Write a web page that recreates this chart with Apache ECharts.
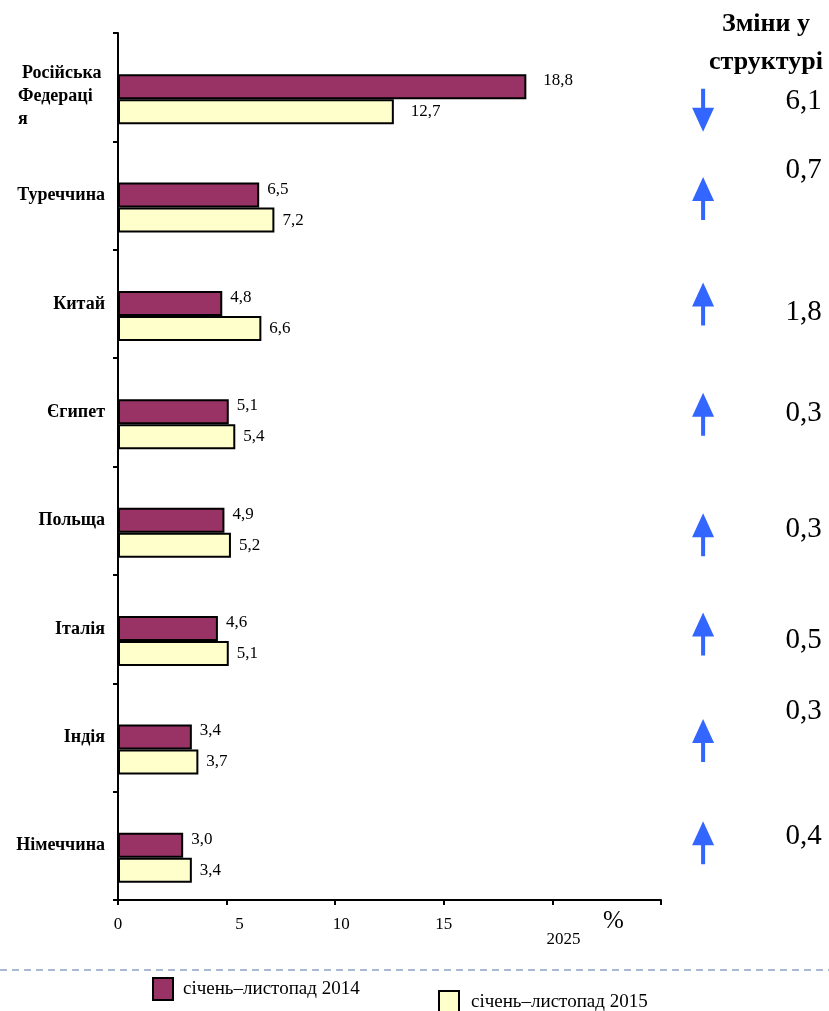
<!DOCTYPE html>
<html>
<head>
<meta charset="utf-8">
<script src="https://cdn.jsdelivr.net/npm/echarts@6/dist/echarts.min.js"></script>
<style>
html,body{margin:0;padding:0;background:#fff;}
#chart{width:829px;height:1011px;}
</style>
</head>
<body>
<div id="chart"></div>
<script>
// ---- data ----
const categories = ['Російська Федерація','Туреччина','Китай','Єгипет','Польща','Італія','Індія','Німеччина'];
const seriesNames = ['січень–листопад 2014','січень–листопад 2015'];
const share2014 = [18.8, 6.5, 4.8, 5.1, 4.9, 4.6, 3.4, 3.0];
const share2015 = [12.7, 7.2, 6.6, 5.4, 5.2, 5.1, 3.7, 3.4];
const structureChange = [6.1, 0.7, 1.8, 0.3, 0.3, 0.5, 0.3, 0.4];
const changeDirection = ['down','up','up','up','up','up','up','up'];
const xTicks = [0, 5, 10, 15, 20, 25];
const changeTitle = 'Зміни у\nструктурі';
const unitLabel = '%';

// ---- layout tweaks (not data) ----
const arrowNudge = [23, 3, 0, 2, 14, 5, 3, -3];
const textNudge = [14, -25, 8, 1, 9, 11, -26, -9];
const FONT = '"Times New Roman", "Liberation Serif", serif';
const fmt = v => v.toFixed(1).replace('.', ',');

const chart = echarts.init(document.getElementById('chart'), null, {renderer: 'canvas'});

function barSeries(name, values, color, labelOffsetY) {
  return {
    type: 'bar',
    name: name,
    barWidth: 25,
    barGap: '0%',
    data: values.map((v, i) => i === 0
      ? {value: v, label: {distance: 17}}
      : v),
    itemStyle: {color: color, borderColor: '#000', borderWidth: 2},
    label: {
      show: true, position: 'right', distance: 8, offset: [0, labelOffsetY],
      color: '#000', fontFamily: FONT, fontSize: 17,
      formatter: p => fmt(p.value)
    },
    z: 3
  };
}

const arrowPath = 'path://M11,0 L22,24 L13,24 L13,43 L9,43 L9,24 L0,24 Z';

// wrap the long first category the way the original slide does
function categoryLabel(v) {
  if (v !== categories[0]) return v;
  return '{sp| }\n{r1|Російська}\n{r|Федераці}\n{r|я}';
}

const labelRich = {
  sp: {fontSize: 10, lineHeight: 18, width: 87},
  r1: {fontFamily: FONT, fontSize: 18, fontWeight: 'bold', color: '#000', width: 83, align: 'left', lineHeight: 23, padding: [0, 0, 0, 4]},
  r: {fontFamily: FONT, fontSize: 18, fontWeight: 'bold', color: '#000', width: 87, align: 'left', lineHeight: 23}
};

const option = {
  backgroundColor: '#ffffff',
  animation: false,
  title: {
    text: changeTitle,
    left: 761, top: 0,
    textAlign: 'center',
    textStyle: {fontFamily: FONT, fontSize: 26, fontWeight: 'bold', color: '#000', lineHeight: 38}
  },
  legend: [
    {
      data: [seriesNames[0]], left: 147, top: 972, icon: 'rect',
      itemWidth: 20, itemHeight: 22, itemGap: 10,
      textStyle: {fontFamily: FONT, fontSize: 19, color: '#000', padding: [0, 0, 0, 5]}
    },
    {
      data: [seriesNames[1]], left: 433, top: 985, icon: 'rect',
      itemWidth: 20, itemHeight: 22, itemGap: 10,
      textStyle: {fontFamily: FONT, fontSize: 19, color: '#000', padding: [9, 0, 0, 7]}
    }
  ],
  grid: [
    {left: 118, top: 33, width: 543, height: 867, containLabel: false},
    {left: 680, top: 33, width: 149, height: 867, containLabel: false}
  ],
  xAxis: [
    {
      type: 'value', gridIndex: 0,
      min: xTicks[0], max: xTicks[xTicks.length - 1], interval: xTicks[1] - xTicks[0],
      axisLine: {show: true, lineStyle: {color: '#000', width: 2}},
      axisTick: {show: true, length: 5, lineStyle: {color: '#000', width: 2}},
      splitLine: {show: false},
      axisLabel: {
        margin: 16, color: '#000', fontFamily: FONT, fontSize: 17,
        formatter: v => {
          if (v === 5) return '{s5|5}';
          if (v === 10) return '{s10|10}';
          if (v === 20) return '{t|' + '20' + '25' + '}';
          if (v === 25) return '';
          return String(v);
        },
        rich: {
          s5: {fontFamily: FONT, fontSize: 17, color: '#000', padding: [0, 0, 0, 26]},
          s10: {fontFamily: FONT, fontSize: 17, color: '#000', padding: [0, 0, 0, 12]},
          t: {fontFamily: FONT, fontSize: 17, color: '#000', padding: [15, 0, 0, 22]}
        }
      },
      name: unitLabel,
      nameLocation: 'end',
      nameGap: -58,
      nameTextStyle: {fontFamily: FONT, fontSize: 25, color: '#000', align: 'left', verticalAlign: 'top', padding: [9, 0, 0, 0]}
    },
    {type: 'value', gridIndex: 1, min: 0, max: 10, show: false}
  ],
  yAxis: [
    {
      type: 'category', gridIndex: 0, inverse: true,
      data: categories,
      axisLine: {show: true, lineStyle: {color: '#000', width: 2}},
      axisTick: {show: true, length: 5, alignWithLabel: false, lineStyle: {color: '#000', width: 2}},
      splitLine: {show: false},
      axisLabel: {
        margin: 13, color: '#000', fontFamily: FONT, fontSize: 18, fontWeight: 'bold',
        formatter: categoryLabel,
        rich: labelRich
      }
    },
    {type: 'category', gridIndex: 1, inverse: true, data: categories, show: false}
  ],
  series: [
    {
      type: 'bar', name: 'pad', barWidth: 24, barGap: '0%', silent: true,
      data: categories.map(() => null),
      itemStyle: {color: 'rgba(0,0,0,0)'}
    },
    barSeries(seriesNames[0], share2014, '#993366', -6),
    barSeries(seriesNames[1], share2015, '#FFFFCC', 0),
    {
      type: 'scatter', xAxisIndex: 1, yAxisIndex: 1, silent: true,
      symbol: arrowPath, symbolSize: [22, 43],
      itemStyle: {color: '#3366FF', opacity: 1},
      data: categories.map((c, i) => ({
        value: [1.55, i],
        symbolRotate: changeDirection[i] === 'down' ? 180 : 0,
        symbolOffset: [0, arrowNudge[i]]
      })),
      z: 4
    },
    {
      type: 'scatter', xAxisIndex: 1, yAxisIndex: 1, silent: true,
      symbol: 'circle', symbolSize: 1,
      itemStyle: {color: '#ffffff', opacity: 0},
      data: categories.map((c, i) => ({
        value: [8.3, i],
        label: {offset: [0, textNudge[i]]}
      })),
      label: {
        show: true, position: 'inside', color: '#000000', opacity: 1,
        textBorderWidth: 0, textBorderColor: 'transparent',
        fontFamily: FONT, fontSize: 29,
        formatter: p => fmt(structureChange[p.dataIndex])
      },
      z: 4
    }
  ],
  graphic: [
    {
      type: 'line', silent: true,
      shape: {x1: 0, y1: 970, x2: 829, y2: 970},
      style: {stroke: '#8FA4C4', lineWidth: 1.5, lineDash: [7, 5]}
    }
  ]
};

chart.setOption(option);
</script>
</body>
</html>
